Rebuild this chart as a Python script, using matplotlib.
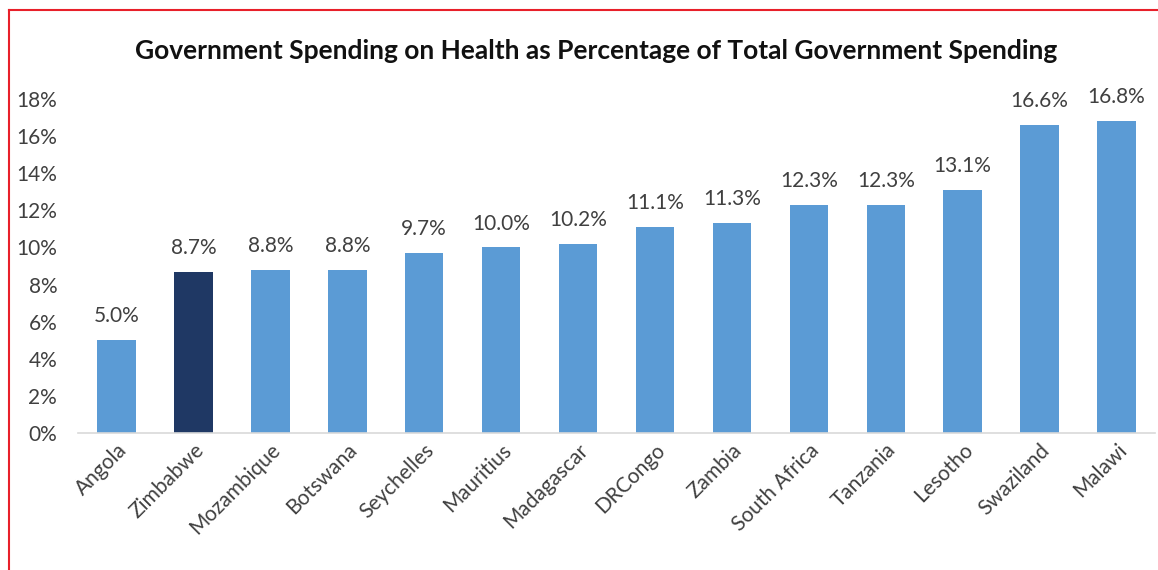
import matplotlib.pyplot as plt
from matplotlib.lines import Line2D
from matplotlib.ticker import FuncFormatter

countries = ["Angola", "Zimbabwe", "Mozambique", "Botswana", "Seychelles", "Mauritius",
             "Madagascar", "DRCongo", "Zambia", "South Africa", "Tanzania", "Lesotho",
             "Swaziland", "Malawi"]
values = [5.0, 8.7, 8.8, 8.8, 9.7, 10.0, 10.2, 11.1, 11.3, 12.3, 12.3, 13.1, 16.6, 16.8]
highlight = "Zimbabwe"

plt.rcParams["font.family"] = ["Lato", "DejaVu Sans"]

fig = plt.figure(figsize=(11.58, 5.70), dpi=100)
ax = fig.add_axes([0.0674, 0.2404, 0.93, 0.5859])

colors = ["#1F3864" if c == highlight else "#5B9BD5" for c in countries]
x = range(len(countries))
bars = ax.bar(x, values, width=0.5, color=colors)

for b, v in zip(bars, values):
    ax.annotate(f"{v:.1f}%", (b.get_x() + b.get_width() / 2, v), xytext=(0, 10),
                textcoords="offset points", ha="center", va="bottom",
                fontsize=15, color="#404040")

ax.set_xlim(-0.5, len(countries) - 0.5)
ax.set_ylim(0, 18)
ax.set_yticks(range(0, 19, 2))
ax.yaxis.set_major_formatter(FuncFormatter(lambda v, p: f"{v:.0f}%"))
ax.set_xticks(list(x))
ax.set_xticklabels(countries, rotation=45, ha="right", rotation_mode="anchor")
ax.tick_params(axis="both", length=0, labelsize=15, labelcolor="#404040")
ax.tick_params(axis="y", pad=15)
ax.tick_params(axis="x", pad=5)
for s in ["top", "right", "left"]:
    ax.spines[s].set_visible(False)
ax.spines["bottom"].set_color("#D9D9D9")
ax.spines["bottom"].set_linewidth(1.2)

fig.text(0.515, 0.91, "Government Spending on Health as Percentage of Total Government Spending",
         ha="center", va="center", fontsize=19, fontweight="bold", color="#111111")

# red frame (top and left edges)
fig.add_artist(Line2D([0.0078, 1.0], [0.982, 0.982], color="#E8202A", lw=1.5, transform=fig.transFigure))
fig.add_artist(Line2D([0.0078, 0.0078], [0.0, 0.982], color="#E8202A", lw=1.5, transform=fig.transFigure))

fig.savefig("out.png", dpi=100)
